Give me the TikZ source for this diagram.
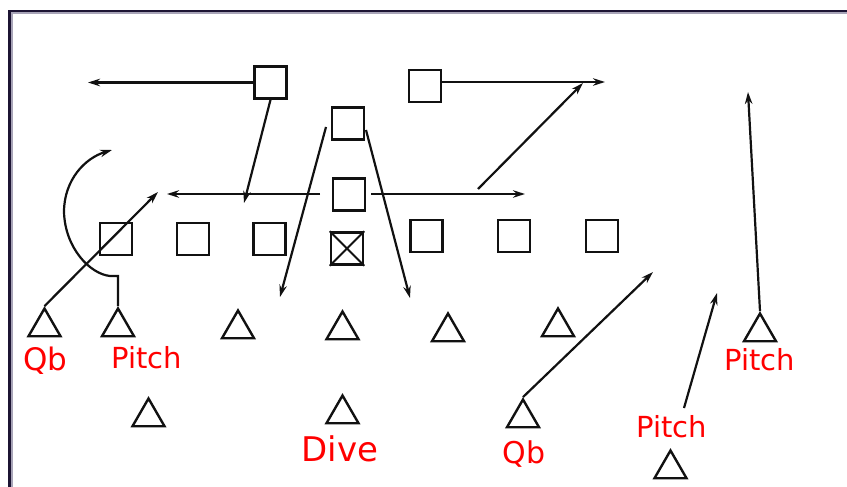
\documentclass[tikz,border=0pt]{standalone}
\usepackage{fontspec}
\setmainfont{DejaVu Sans}
\usetikzlibrary{arrows.meta,shapes.geometric}
\definecolor{ink}{HTML}{111111}
\definecolor{framedark}{HTML}{1C1433}
\definecolor{framelight}{HTML}{A8A4B8}
\begin{document}
\begin{tikzpicture}[x=1pt,y=-1pt,
  sqbox/.style={draw=ink,line width=2.6pt,minimum size=32pt,inner sep=0pt},
  tri/.style={draw=ink,line width=2.4pt,regular polygon,regular polygon sides=3,minimum size=37pt,inner sep=0pt},
  route/.style={draw=ink,line width=2.2pt,-{Stealth[length=12pt,width=7.5pt]}},
  lbl/.style={text=red,anchor=base,inner sep=0pt}]
\useasboundingbox (0,0) rectangle (847,487);
% frame
\fill[framedark] (8,10) rectangle (847,12.5);
\fill[framelight] (11,12.5) rectangle (847,14.5);
\fill[framedark] (8,10) rectangle (11,487);
\fill[framelight] (11,12.5) rectangle (13,487);
% defenders (squares)
\node[sqbox] (SA) at (270.5,82.5) {};
\node[sqbox] (SB) at (425,86) {};
\node[sqbox] (SC) at (348,123.5) {};
\node[sqbox] (SD) at (349,194.5) {};
\node[sqbox] (SX) at (347,248.5) {};
\draw[ink,line width=1.8pt] (SX.north west) -- (SX.south east) (SX.north east) -- (SX.south west);
\node[sqbox] (L1) at (116,239) {};
\node[sqbox] (L2) at (193,239) {};
\node[sqbox] (L3) at (269.5,239) {};
\node[sqbox] (R1) at (426.5,236) {};
\node[sqbox] (R2) at (514,236) {};
\node[sqbox] (R3) at (602,236) {};
% offense (triangles)
\node[tri] (T1) at (44.5,327) {};
\node[tri] (T2) at (118,327) {};
\node[tri] (T3) at (238,329) {};
\node[tri] (T4) at (342.5,330) {};
\node[tri] (T5) at (448,332) {};
\node[tri] (T6) at (558,327) {};
\node[tri] (T7) at (760,332) {};
\node[tri] (T8) at (148.5,417) {};
\node[tri] (T9) at (342.5,414) {};
\node[tri] (T10) at (523,418) {};
\node[tri] (T11) at (670.5,469) {};
% labels
\node[lbl,font=\fontsize{31}{33}\selectfont] (q1) at (45.5,370) {Qb};
\node[lbl,font=\fontsize{29}{31}\selectfont] (p1) at (146.5,368) {Pitch};
\node[lbl,font=\fontsize{34}{36}\selectfont] (dv) at (340,461) {Dive};
\node[lbl,font=\fontsize{30}{32}\selectfont] (q2) at (524,463) {Qb};
\node[lbl,font=\fontsize{29}{31}\selectfont] (p2) at (759.5,370) {Pitch};
\node[lbl,font=\fontsize{29}{31}\selectfont] (p3) at (671.5,437) {Pitch};
% route end points
\coordinate (a1) at (88,82.5);
\coordinate (a2) at (244,203);
\coordinate (b0) at (320,194);
\coordinate (b1) at (167,194);
\coordinate (c0) at (371,194);
\coordinate (c1) at (525,194);
\coordinate (d0) at (478,189);
\coordinate (d1) at (583,83);
\coordinate (e0) at (442,82);
\coordinate (e1) at (605,82);
\coordinate (f0) at (326,127);
\coordinate (f1) at (280,297);
\coordinate (g0) at (366,130);
\coordinate (g1) at (410,298);
\coordinate (h1) at (158,192);
\coordinate (k1) at (112,150);
\coordinate (m1) at (653,272);
\coordinate (n0) at (684,408);
\coordinate (n1) at (717,293);
\coordinate (r1) at (748,92);
% routes
\draw[route] (SA.west |- a1) -- (a1);
\draw[route] (SA.south) -- (a2);
\draw[route] (b0) -- (b1);
\draw[route] (c0) -- (c1);
\draw[route] (d0) -- (d1);
\draw[route] (e0) -- (e1);
\draw[route] (f0) -- (f1);
\draw[route] (g0) -- (g1);
\draw[route] (T1.corner 1) -- (h1);
\draw[route] (T2.corner 1) -- (118,276) -- (110,276)
  .. controls (90,274) and (65,248) .. (64,212)
  .. controls (64,180) and (85,158) .. (k1);
\draw[route] (T10.corner 1) -- (m1);
\draw[route] (n0) -- (n1);
\draw[route] (T7.corner 1) -- (r1);
\end{tikzpicture}
\end{document}
